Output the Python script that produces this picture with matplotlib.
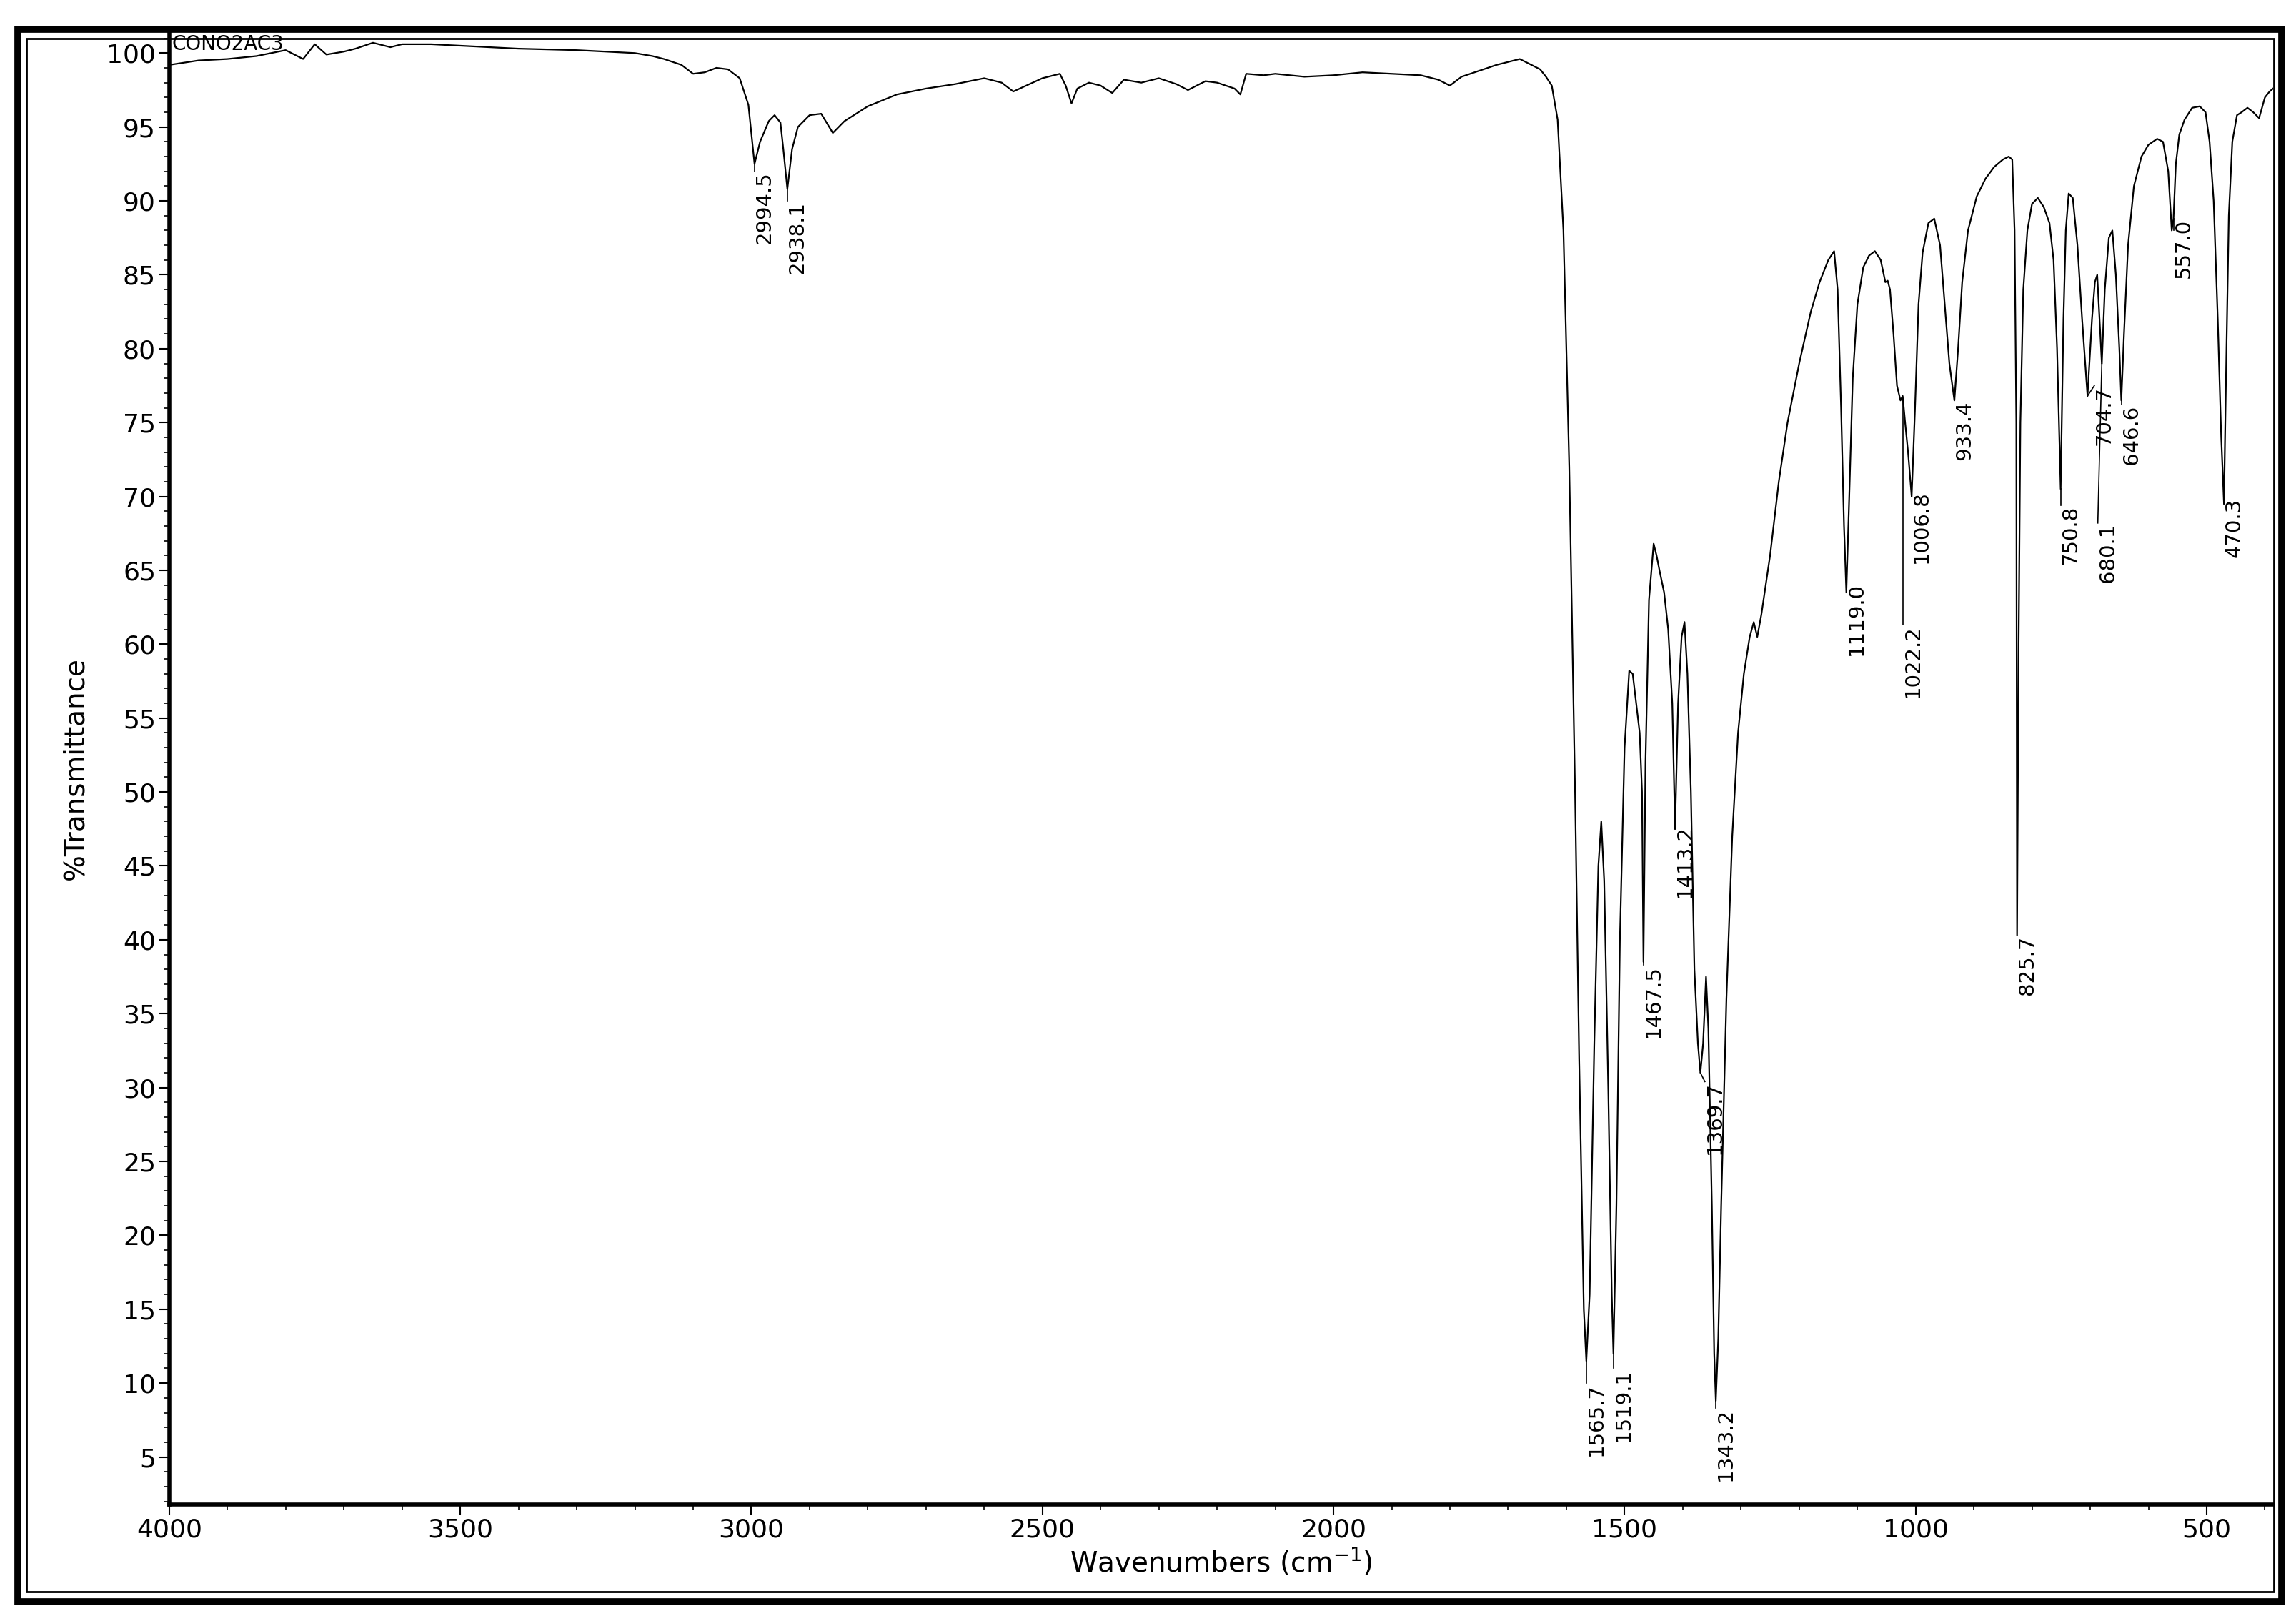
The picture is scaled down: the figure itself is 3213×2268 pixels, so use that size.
import numpy as np
import matplotlib
matplotlib.use('Agg')
import matplotlib.pyplot as plt
from matplotlib.patches import Rectangle
from matplotlib.ticker import MultipleLocator

# spectrum points (wavenumber, %T)
wn = [4000, 3950, 3900, 3850, 3800, 3770, 3750, 3730, 3700, 3680, 3650, 3620, 3600, 3550, 3500,
      3400, 3300, 3200, 3170, 3150, 3120, 3100, 3080, 3060, 3040, 3020, 3005, 2994.5, 2985,
      2970, 2960, 2950, 2945, 2938.1, 2930, 2920, 2900, 2880, 2860, 2840, 2800, 2750, 2700,
      2650, 2600, 2570, 2550, 2500, 2470, 2460, 2450, 2440, 2420, 2400, 2380, 2360, 2330,
      2300, 2270, 2250, 2220, 2200, 2170, 2160, 2150, 2120, 2100, 2050, 2000, 1950, 1900,
      1850, 1820, 1800, 1780, 1750, 1720, 1700, 1680, 1660, 1645, 1635, 1625, 1615, 1605,
      1595, 1585, 1578, 1570, 1565.7, 1560, 1552, 1545, 1540, 1535, 1528, 1522, 1519.1, 1514,
      1508, 1500, 1492, 1486, 1480, 1474, 1470, 1467.5, 1464, 1458, 1450, 1445, 1440, 1432,
      1425, 1418, 1413.2, 1408, 1402, 1397, 1392, 1386, 1380, 1374, 1369.7, 1365, 1360, 1356,
      1350, 1346, 1343.2, 1339, 1334, 1325, 1315, 1305, 1295, 1285, 1278, 1272, 1265, 1250,
      1235, 1220, 1200, 1180, 1165, 1150, 1140, 1134, 1128, 1123, 1119, 1114, 1108, 1100,
      1090, 1080, 1070, 1060, 1052, 1048, 1044, 1038, 1032, 1026, 1022.2, 1018, 1013, 1006.8,
      1001, 995, 988, 978, 968, 958, 950, 942, 933.4, 927, 920, 910, 895, 880, 865, 850,
      840, 834, 830, 827, 825.7, 823, 820, 815, 808, 800, 790, 780, 770, 763, 757, 750.8,
      746, 742, 737, 730, 722, 714, 704.7, 697, 692, 688, 684, 680.1, 675, 668, 662, 656,
      650, 646.6, 642, 635, 625, 612, 600, 585, 575, 566, 560, 557, 553, 547, 538, 525, 512,
      502, 495, 488, 481, 475, 470.3, 466, 462, 456, 448, 440, 430, 420, 410, 400, 392, 386]
tr = [99.2, 99.5, 99.6, 99.8, 100.2, 99.6, 100.6, 99.9, 100.1, 100.3, 100.7, 100.4, 100.6, 100.6, 100.5,
      100.3, 100.2, 100.0, 99.8, 99.6, 99.2, 98.6, 98.7, 99.0, 98.9, 98.3, 96.5, 92.5, 94.0,
      95.4, 95.8, 95.3, 93.5, 90.8, 93.5, 95.0, 95.8, 95.9, 94.6, 95.4, 96.4, 97.2, 97.6,
      97.9, 98.3, 98.0, 97.4, 98.3, 98.6, 97.8, 96.6, 97.6, 98.0, 97.8, 97.3, 98.2, 98.0,
      98.3, 97.9, 97.5, 98.1, 98.0, 97.6, 97.2, 98.6, 98.5, 98.6, 98.4, 98.5, 98.7, 98.6,
      98.5, 98.2, 97.8, 98.4, 98.8, 99.2, 99.4, 99.6, 99.2, 98.9, 98.4, 97.8, 95.5, 88.0,
      72.0, 50.0, 32.0, 15.0, 11.5, 16.0, 33.0, 45.0, 48.0, 44.0, 30.0, 16.0, 12.0, 22.0,
      40.0, 53.0, 58.2, 58.0, 56.0, 54.0, 50.0, 38.5, 52.0, 63.0, 66.8, 66.0, 65.0, 63.5,
      61.0, 56.0, 47.5, 56.0, 60.5, 61.5, 58.0, 50.0, 38.0, 33.0, 31.0, 33.0, 37.5, 34.0,
      22.0, 12.0, 8.8, 13.0, 22.0, 36.0, 47.0, 54.0, 58.0, 60.5, 61.5, 60.5, 62.0, 66.0,
      71.0, 75.0, 79.0, 82.5, 84.5, 86.0, 86.6, 84.0, 76.0, 68.0, 63.5, 70.0, 78.0, 83.0,
      85.5, 86.3, 86.6, 86.0, 84.5, 84.6, 84.0, 81.0, 77.5, 76.5, 76.8, 75.0, 73.0, 70.0,
      76.0, 83.0, 86.5, 88.5, 88.8, 87.0, 83.0, 79.0, 76.5, 80.0, 84.5, 88.0, 90.3, 91.5,
      92.3, 92.8, 93.0, 92.8, 88.0, 75.0, 40.3, 60.0, 75.0, 84.0, 88.0, 89.8, 90.2, 89.6,
      88.5, 86.0, 80.0, 70.5, 82.0, 88.0, 90.5, 90.2, 87.0, 82.0, 76.8, 82.0, 84.5, 85.0,
      82.0, 79.0, 84.0, 87.5, 88.0, 85.0, 80.0, 76.5, 81.0, 87.0, 91.0, 93.0, 93.8, 94.2,
      94.0, 92.0, 88.0, 88.8, 92.5, 94.5, 95.5, 96.3, 96.4, 96.0, 94.0, 90.0, 82.0, 74.0,
      69.5, 80.0, 89.0, 94.0, 95.8, 96.0, 96.3, 96.0, 95.6, 97.0, 97.4, 97.6]

# peak labels: wavenumber, text, text x, text top (%T)
peak_wn = [2994.5, 2938.1, 1565.7, 1519.1, 1467.5, 1413.2, 1369.7, 1343.2, 1119.0, 1022.2,
           1006.8, 933.4, 825.7, 750.8, 704.7, 680.1, 646.6, 557.0, 470.3]
peak_txt = ['2994.5', '2938.1', '1565.7', '1519.1', '1467.5', '1413.2', '1369.7', '1343.2', '1119.0', '1022.2',
            '1006.8', '933.4', '825.7', '750.8', '704.7', '680.1', '646.6', '557.0', '470.3']
peak_min = [92.5, 90.8, 11.5, 12.0, 38.5, 47.5, 31.0, 8.8, 63.5, 76.5,
            70.0, 76.5, 40.3, 70.5, 76.8, 79.0, 76.5, 88.0, 69.5]
lab_x = [2994.5, 2938.1, 1565.7, 1519.1, 1467.5, 1413.2, 1362, 1343.2, 1119.0, 1022.2,
         1006.8, 933.4, 825.7, 750.8, 693, 687, 646.6, 557.0, 470.3]
lab_top = [92.0, 90.0, 10.0, 11.0, 38.3, 47.8, 30.4, 8.3, 64.2, 61.3,
           70.4, 76.5, 40.3, 69.4, 77.5, 68.2, 76.2, 88.8, 69.9]

fig = plt.figure(figsize=(32.13, 22.68), dpi=100)
ax = fig.add_axes([0.0737, 0.072, 0.9163, 0.908])
ax.plot(wn, tr, color='black', lw=1.6)
ax.set_xlim(4000, 386)
ax.set_ylim(1.8, 101.4)
ax.xaxis.set_major_locator(MultipleLocator(500))
ax.xaxis.set_minor_locator(MultipleLocator(100))
ax.yaxis.set_major_locator(MultipleLocator(5))
ax.yaxis.set_minor_locator(MultipleLocator(1))
ax.set_yticks(range(5, 101, 5))
ax.tick_params(which='major', length=10, width=1.5, labelsize=26)
ax.tick_params(which='minor', length=5, width=1.2)
for s in ['top', 'right']:
    ax.spines[s].set_visible(False)
for s in ['left', 'bottom']:
    ax.spines[s].set_linewidth(4)
ax.set_xlabel('Wavenumbers (cm$^{-1}$)', fontsize=28, labelpad=4)
ax.set_ylabel('%Transmittance', fontsize=28, labelpad=18)
ax.text(3995, 100.6, 'CONO2AC3', fontsize=20, va='center', ha='left')

for w, t, m, lx, ly in zip(peak_wn, peak_txt, peak_min, lab_x, lab_top):
    ax.plot([w, lx], [m, ly], color='black', lw=1.2)
    ax.text(lx, ly, t, rotation=90, fontsize=21, ha='left', va='top')

# outer double frame
fig.patches.append(Rectangle((0.0077, 0.012), 0.986, 0.97, transform=fig.transFigure,
                             fill=False, lw=7, ec='black'))
fig.patches.append(Rectangle((0.0115, 0.018), 0.979, 0.958, transform=fig.transFigure,
                             fill=False, lw=2, ec='black'))

fig.savefig('out.png', dpi=100)
